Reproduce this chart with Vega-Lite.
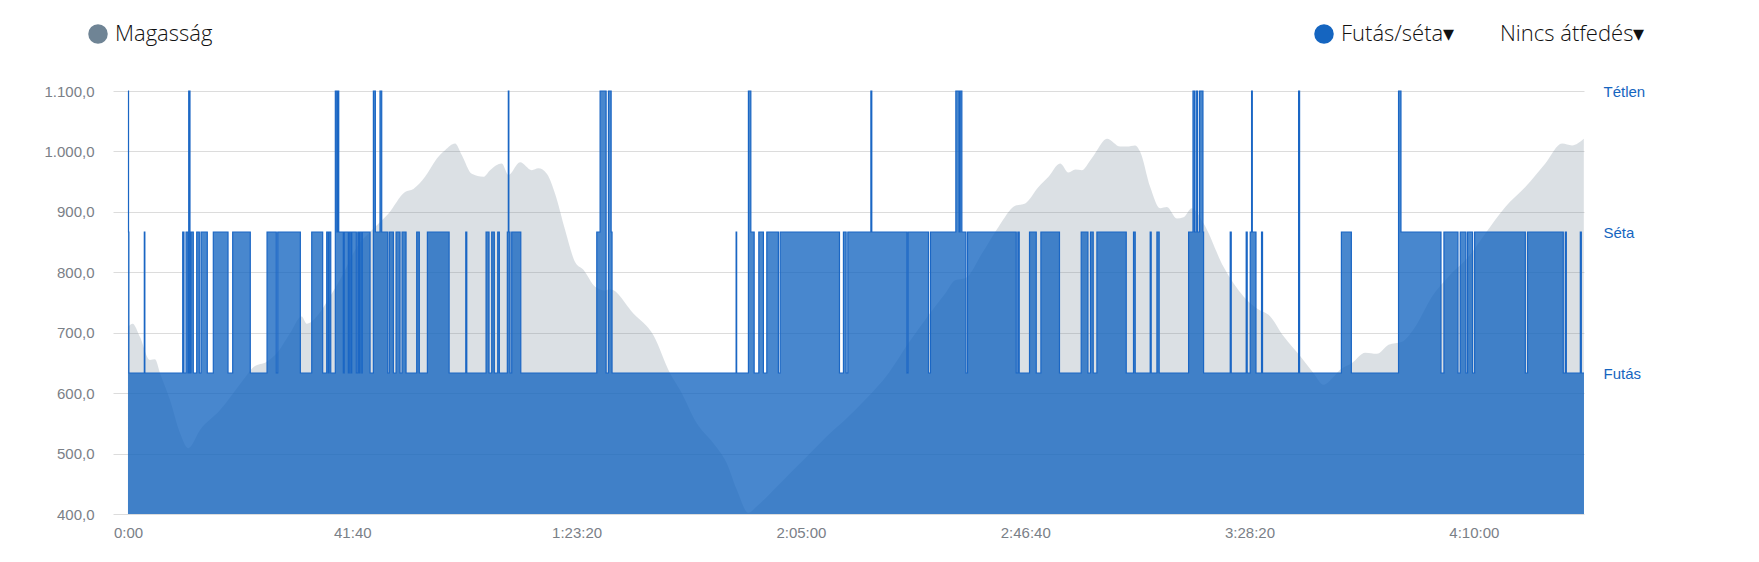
{
  "$schema": "https://vega.github.io/schema/vega-lite/v6.json",
  "width": 1471,
  "height": 423,
  "autosize": {"type": "none"},
  "padding": {"left": 113, "top": 91, "right": 175, "bottom": 48},
  "background": "white",
  "config": {"view": {"stroke": null}, "font": "Liberation Sans"},
  "datasets": {
    "elev": [
      {"t":0,"e":710},{"t":52,"e":715},{"t":134,"e":693},{"t":245,"e":655},{"t":301,"e":656},{"t":357,"e":633},{"t":468,"e":589},{"t":580,"e":534},{"t":672,"e":509},{"t":803,"e":539},{"t":1026,"e":572},{"t":1285,"e":622},{"t":1397,"e":643},{"t":1546,"e":652},{"t":1658,"e":666},{"t":1806,"e":699},{"t":1936,"e":727},{"t":1992,"e":715},{"t":2104,"e":727},{"t":2252,"e":760},{"t":2400,"e":798},{"t":2531,"e":837},{"t":2754,"e":875},{"t":2902,"e":897},{"t":3088,"e":933},{"t":3181,"e":938},{"t":3311,"e":958},{"t":3441,"e":988},{"t":3534,"e":1002},{"t":3645,"e":1013},{"t":3720,"e":994},{"t":3831,"e":963},{"t":3961,"e":958},{"t":4036,"e":969},{"t":4166,"e":980},{"t":4240,"e":961},{"t":4370,"e":982},{"t":4500,"e":969},{"t":4574,"e":972},{"t":4668,"e":963},{"t":4760,"e":930},{"t":4872,"e":870},{"t":4983,"e":817},{"t":5076,"e":804},{"t":5206,"e":776},{"t":5318,"e":770},{"t":5373,"e":772},{"t":5633,"e":732},{"t":5856,"e":696},{"t":6042,"e":633},{"t":6154,"e":605},{"t":6340,"e":550},{"t":6525,"e":517},{"t":6674,"e":484},{"t":6786,"e":440},{"t":6915,"e":402},{"t":7009,"e":413},{"t":7269,"e":451},{"t":7566,"e":495},{"t":7863,"e":539},{"t":7993,"e":556},{"t":8216,"e":589},{"t":8476,"e":633},{"t":8699,"e":683},{"t":8922,"e":729},{"t":9108,"e":765},{"t":9219,"e":787},{"t":9331,"e":790},{"t":9517,"e":831},{"t":9702,"e":875},{"t":9888,"e":910},{"t":10000,"e":914},{"t":10148,"e":941},{"t":10260,"e":958},{"t":10390,"e":980},{"t":10483,"e":965},{"t":10558,"e":970},{"t":10632,"e":969},{"t":10724,"e":985},{"t":10780,"e":997},{"t":10911,"e":1021},{"t":11059,"e":1008},{"t":11133,"e":1008},{"t":11226,"e":1010},{"t":11282,"e":999},{"t":11393,"e":941},{"t":11504,"e":906},{"t":11579,"e":908},{"t":11690,"e":889},{"t":11764,"e":891},{"t":11858,"e":906},{"t":11987,"e":881},{"t":12210,"e":809},{"t":12433,"e":760},{"t":12583,"e":740},{"t":12731,"e":727},{"t":12880,"e":694},{"t":13066,"e":661},{"t":13214,"e":633},{"t":13326,"e":614},{"t":13437,"e":627},{"t":13512,"e":639},{"t":13642,"e":650},{"t":13790,"e":667},{"t":13920,"e":665},{"t":14050,"e":680},{"t":14199,"e":685},{"t":14347,"e":710},{"t":14534,"e":760},{"t":14719,"e":793},{"t":14942,"e":826},{"t":15128,"e":864},{"t":15351,"e":908},{"t":15574,"e":941},{"t":15797,"e":980},{"t":15984,"e":1013},{"t":16095,"e":1010},{"t":16226,"e":1021}
    ],
    "act": [
      {"t":0,"a":3},{"t":6,"a":2},{"t":10,"a":1},{"t":182,"a":2},{"t":188,"a":1},{"t":610,"a":2},{"t":624,"a":1},{"t":647,"a":2},{"t":669,"a":1},{"t":677,"a":3},{"t":691,"a":1},{"t":702,"a":2},{"t":728,"a":1},{"t":766,"a":2},{"t":795,"a":1},{"t":814,"a":2},{"t":884,"a":1},{"t":951,"a":2},{"t":1115,"a":1},{"t":1167,"a":2},{"t":1363,"a":1},{"t":1550,"a":2},{"t":1653,"a":1},{"t":1669,"a":2},{"t":1921,"a":1},{"t":2048,"a":2},{"t":2170,"a":1},{"t":2215,"a":2},{"t":2233,"a":1},{"t":2241,"a":2},{"t":2260,"a":1},{"t":2311,"a":3},{"t":2327,"a":2},{"t":2338,"a":3},{"t":2349,"a":2},{"t":2400,"a":1},{"t":2411,"a":2},{"t":2456,"a":1},{"t":2467,"a":2},{"t":2483,"a":1},{"t":2494,"a":2},{"t":2545,"a":1},{"t":2561,"a":2},{"t":2575,"a":1},{"t":2586,"a":2},{"t":2605,"a":1},{"t":2612,"a":2},{"t":2698,"a":1},{"t":2735,"a":3},{"t":2757,"a":2},{"t":2809,"a":3},{"t":2828,"a":2},{"t":2895,"a":1},{"t":2913,"a":2},{"t":2958,"a":1},{"t":2988,"a":2},{"t":3032,"a":1},{"t":3055,"a":2},{"t":3099,"a":1},{"t":3218,"a":2},{"t":3247,"a":1},{"t":3337,"a":2},{"t":3579,"a":1},{"t":3765,"a":2},{"t":3776,"a":1},{"t":3991,"a":2},{"t":4024,"a":1},{"t":4054,"a":2},{"t":4083,"a":1},{"t":4121,"a":2},{"t":4139,"a":1},{"t":4228,"a":2},{"t":4239,"a":3},{"t":4245,"a":2},{"t":4258,"a":1},{"t":4277,"a":2},{"t":4378,"a":1},{"t":5225,"a":2},{"t":5262,"a":3},{"t":5329,"a":1},{"t":5355,"a":3},{"t":5385,"a":2},{"t":5395,"a":1},{"t":6778,"a":2},{"t":6784,"a":1},{"t":6915,"a":3},{"t":6942,"a":2},{"t":6979,"a":1},{"t":7031,"a":2},{"t":7082,"a":1},{"t":7120,"a":2},{"t":7249,"a":1},{"t":7269,"a":2},{"t":7930,"a":1},{"t":7974,"a":2},{"t":8004,"a":1},{"t":8023,"a":2},{"t":8280,"a":3},{"t":8290,"a":2},{"t":8681,"a":1},{"t":8695,"a":2},{"t":8922,"a":1},{"t":8944,"a":2},{"t":9227,"a":3},{"t":9264,"a":2},{"t":9275,"a":3},{"t":9294,"a":2},{"t":9339,"a":1},{"t":9357,"a":2},{"t":9900,"a":1},{"t":9918,"a":2},{"t":9933,"a":1},{"t":10048,"a":2},{"t":10123,"a":1},{"t":10175,"a":2},{"t":10382,"a":1},{"t":10624,"a":2},{"t":10699,"a":1},{"t":10728,"a":2},{"t":10758,"a":1},{"t":10799,"a":2},{"t":11126,"a":1},{"t":11207,"a":2},{"t":11226,"a":1},{"t":11393,"a":2},{"t":11404,"a":1},{"t":11468,"a":2},{"t":11493,"a":1},{"t":11821,"a":2},{"t":11870,"a":3},{"t":11888,"a":2},{"t":11906,"a":3},{"t":11921,"a":2},{"t":11943,"a":3},{"t":11981,"a":2},{"t":11988,"a":1},{"t":12285,"a":2},{"t":12296,"a":1},{"t":12463,"a":2},{"t":12474,"a":1},{"t":12508,"a":2},{"t":12523,"a":3},{"t":12531,"a":2},{"t":12572,"a":1},{"t":12634,"a":2},{"t":12645,"a":1},{"t":13047,"a":3},{"t":13058,"a":1},{"t":13524,"a":2},{"t":13635,"a":1},{"t":14161,"a":3},{"t":14188,"a":2},{"t":14634,"a":1},{"t":14667,"a":2},{"t":14823,"a":1},{"t":14849,"a":2},{"t":14912,"a":1},{"t":14930,"a":2},{"t":14986,"a":1},{"t":15009,"a":2},{"t":15574,"a":1},{"t":15599,"a":2},{"t":15997,"a":1},{"t":16020,"a":2},{"t":16031,"a":1},{"t":16187,"a":2},{"t":16198,"a":1},{"t":16228,"a":1}
    ]
  },
  "layer": [
    {
      "data": {"name": "elev"},
      "mark": {"type": "area", "interpolate": "monotone", "opacity": 0.25},
      "encoding": {
        "x": {"field": "t", "type": "quantitative", "scale": {"domain": [-167, 16228], "nice": false, "zero": false},
          "axis": {"values": [0, 2500, 5000, 7500, 10000, 12500, 15000], "labelExpr": "datum.value >= 3600 ? floor(datum.value/3600) + ':' + format(floor((datum.value%3600)/60), '02d') + ':' + format(datum.value%60, '02d') : floor(datum.value/60) + ':' + format(datum.value%60, '02d')", "grid": false, "domain": false, "ticks": false, "title": null, "labelFontSize": 15, "labelColor": "#7a8087", "labelPadding": 11, "labelFlush": false}},
        "y": {"field": "e", "type": "quantitative", "scale": {"domain": [400, 1100], "nice": false, "zero": false},
          "axis": {"values": [400, 500, 600, 700, 800, 900, 1000, 1100], "labelExpr": "replace(replace(replace(format(datum.value, ',.1f'), ',', '#'), '.', ','), '#', '.')", "grid": true, "gridColor": "#dcdcdc", "domain": false, "ticks": false, "title": null, "labelFontSize": 15, "labelColor": "#7a8087", "labelPadding": 19}},
        "y2": {"datum": 400},
        "color": {"datum": "Magasság", "type": "nominal", "scale": {"range": ["#6f8495"]},
          "legend": {"orient": "none", "legendX": -26, "legendY": -68, "title": null, "symbolType": "circle", "symbolSize": 380, "symbolOpacity": 1, "symbolStrokeWidth": 0, "labelFont": "Open Sans", "labelFontSize": 22, "labelFontWeight": 300, "labelColor": "#111111", "labelOffset": 6, "padding": 0}}
      }
    },
    {
      "data": {"name": "act"},
      "layer": [
        {
          "mark": {"type": "area", "interpolate": "step-after", "fillOpacity": 0.78},
          "encoding": {
            "x": {"field": "t", "type": "quantitative"},
            "y": {"field": "a", "type": "quantitative", "scale": {"domain": [0, 3], "nice": false, "zero": false},
              "axis": {"orient": "right", "values": [1, 2, 3], "labelExpr": "datum.value == 1 ? 'Futás' : datum.value == 2 ? 'Séta' : 'Tétlen'", "grid": false, "domain": false, "ticks": false, "title": null, "labelFontSize": 15, "labelColor": "#1565c0", "labelPadding": 19}},
            "fill": {"datum": "Futás/séta▾", "type": "nominal", "scale": {"range": ["#1565c0"]},
              "legend": {"orient": "none", "legendX": 1200, "legendY": -68, "title": null, "symbolType": "circle", "symbolSize": 380, "symbolOpacity": 1, "symbolStrokeWidth": 0, "labelFont": "Open Sans", "labelFontSize": 22, "labelFontWeight": 300, "labelColor": "#111111", "labelOffset": 6, "padding": 0}}
          }
        },
        {
          "mark": {"type": "line", "interpolate": "step-after", "color": "#1a66c4", "strokeWidth": 1.2},
          "encoding": {
            "x": {"field": "t", "type": "quantitative"},
            "y": {"field": "a", "type": "quantitative"},
            "opacity": {"datum": "Nincs átfedés▾", "type": "nominal", "scale": {"range": [1]},
              "legend": {"orient": "none", "legendX": 1365, "legendY": -68, "title": null, "symbolType": "circle", "symbolSize": 0, "symbolOpacity": 0, "symbolStrokeWidth": 0, "labelFont": "Open Sans", "labelFontSize": 22, "labelFontWeight": 300, "labelColor": "#111111", "labelOffset": 0, "padding": 0}}
          }
        }
      ]
    }
  ],
  "resolve": {"scale": {"y": "independent"}}
}
